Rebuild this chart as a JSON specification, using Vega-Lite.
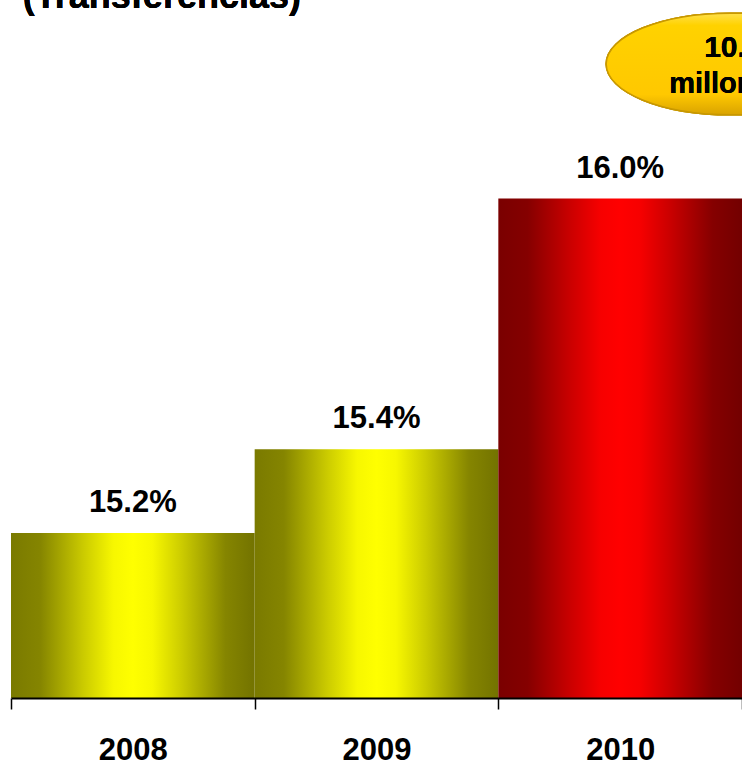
{
  "$schema": "https://vega.github.io/schema/vega-lite/v6.json",
  "width": 731,
  "height": 698,
  "autosize": {"type": "none"},
  "padding": {"left": 11, "top": 0, "right": 0, "bottom": 65},
  "background": "white",
  "config": {
    "view": {"stroke": null},
    "font": "Liberation Sans"
  },
  "data": {
    "values": [
      {"year": "2008", "value": 0.152, "grp": "prev"},
      {"year": "2009", "value": 0.154, "grp": "prev"},
      {"year": "2010", "value": 0.160, "grp": "cur"}
    ]
  },
  "encoding": {
    "x": {
      "field": "year",
      "type": "ordinal",
      "scale": {"domain": ["2008", "2009", "2010"], "paddingInner": 0, "paddingOuter": 0},
      "axis": {
        "title": null,
        "domain": true,
        "domainColor": "black",
        "domainWidth": 2,
        "ticks": true,
        "tickColor": "black",
        "tickWidth": 1.5,
        "tickSize": 11,
        "tickBand": "extent",
        "labelAngle": 0,
        "labelFont": "Liberation Sans",
        "labelFontSize": 31,
        "labelFontWeight": "bold",
        "labelColor": "black",
        "labelBaseline": "alphabetic",
        "labelPadding": 50,
        "grid": false,
        "zindex": 1
      }
    },
    "y": {
      "field": "value",
      "type": "quantitative",
      "scale": {"domain": [0.14805, 0.16475], "zero": false, "nice": false},
      "axis": null
    }
  },
  "layer": [
    {
      "transform": [{"filter": "datum.grp === 'prev'"}],
      "mark": {
        "type": "bar",
        "color": {
          "gradient": "linear",
          "x1": 0, "y1": 0, "x2": 1, "y2": 0,
          "stops": [
            {"offset": 0, "color": "#7a7a00"},
            {"offset": 0.12, "color": "#858500"},
            {"offset": 0.3, "color": "#cccc00"},
            {"offset": 0.42, "color": "#f7f700"},
            {"offset": 0.5, "color": "#ffff00"},
            {"offset": 0.58, "color": "#f7f700"},
            {"offset": 0.7, "color": "#cccc00"},
            {"offset": 0.88, "color": "#858500"},
            {"offset": 1, "color": "#737300"}
          ]
        }
      },
      "encoding": {"y2": {"datum": 0.14805}}
    },
    {
      "transform": [{"filter": "datum.grp === 'cur'"}],
      "mark": {
        "type": "bar",
        "color": {
          "gradient": "linear",
          "x1": 0, "y1": 0, "x2": 1, "y2": 0,
          "stops": [
            {"offset": 0, "color": "#7a0000"},
            {"offset": 0.12, "color": "#850000"},
            {"offset": 0.3, "color": "#cc0000"},
            {"offset": 0.42, "color": "#f70000"},
            {"offset": 0.5, "color": "#ff0000"},
            {"offset": 0.58, "color": "#f70000"},
            {"offset": 0.7, "color": "#cc0000"},
            {"offset": 0.88, "color": "#850000"},
            {"offset": 1, "color": "#730000"}
          ]
        }
      },
      "encoding": {"y2": {"datum": 0.14805}}
    },
    {
      "mark": {
        "type": "text",
        "font": "Liberation Sans",
        "fontSize": 31,
        "fontWeight": "bold",
        "color": "black",
        "baseline": "alphabetic",
        "dy": -21
      },
      "encoding": {
        "text": {"field": "value", "type": "quantitative", "format": ".1%"}
      }
    },
    {
      "mark": {
        "type": "text",
        "font": "Liberation Sans",
        "fontSize": 36,
        "fontWeight": "bold",
        "color": "black",
        "align": "left",
        "baseline": "alphabetic",
        "xOffset": -110
      },
      "encoding": {
        "x": {"datum": "2008"},
        "y": {"datum": 0.164547},
        "text": {"datum": "(Transferencias)"}
      }
    },
    {
      "mark": {
        "type": "point",
        "shape": "M -1 0 A 1 0.41 0 1 1 1 0 A 1 0.41 0 1 1 -1 0 Z",
        "size": 61504,
        "filled": true,
        "opacity": 1,
        "xOffset": 110,
        "fill": {
          "gradient": "linear",
          "x1": 0, "y1": 0, "x2": 0, "y2": 1,
          "stops": [
            {"offset": 0, "color": "#ffe04a"},
            {"offset": 0.12, "color": "#ffd200"},
            {"offset": 0.8, "color": "#ffc800"},
            {"offset": 1, "color": "#d9a300"}
          ]
        },
        "stroke": "#c89800",
        "strokeWidth": 1.5
      },
      "encoding": {
        "x": {"datum": "2010"},
        "y": {"datum": 0.163219}
      }
    },
    {
      "mark": {
        "type": "text",
        "font": "Liberation Sans",
        "fontSize": 30,
        "fontWeight": "bold",
        "color": "black",
        "align": "left",
        "baseline": "alphabetic",
        "xOffset": 84
      },
      "encoding": {
        "x": {"datum": "2010"},
        "y": {"datum": 0.163386},
        "text": {"datum": "10."}
      }
    },
    {
      "mark": {
        "type": "text",
        "font": "Liberation Sans",
        "fontSize": 29,
        "fontWeight": "bold",
        "color": "black",
        "align": "left",
        "baseline": "alphabetic",
        "xOffset": 49
      },
      "encoding": {
        "x": {"datum": "2010"},
        "y": {"datum": 0.162525},
        "text": {"datum": "millones"}
      }
    }
  ]
}
